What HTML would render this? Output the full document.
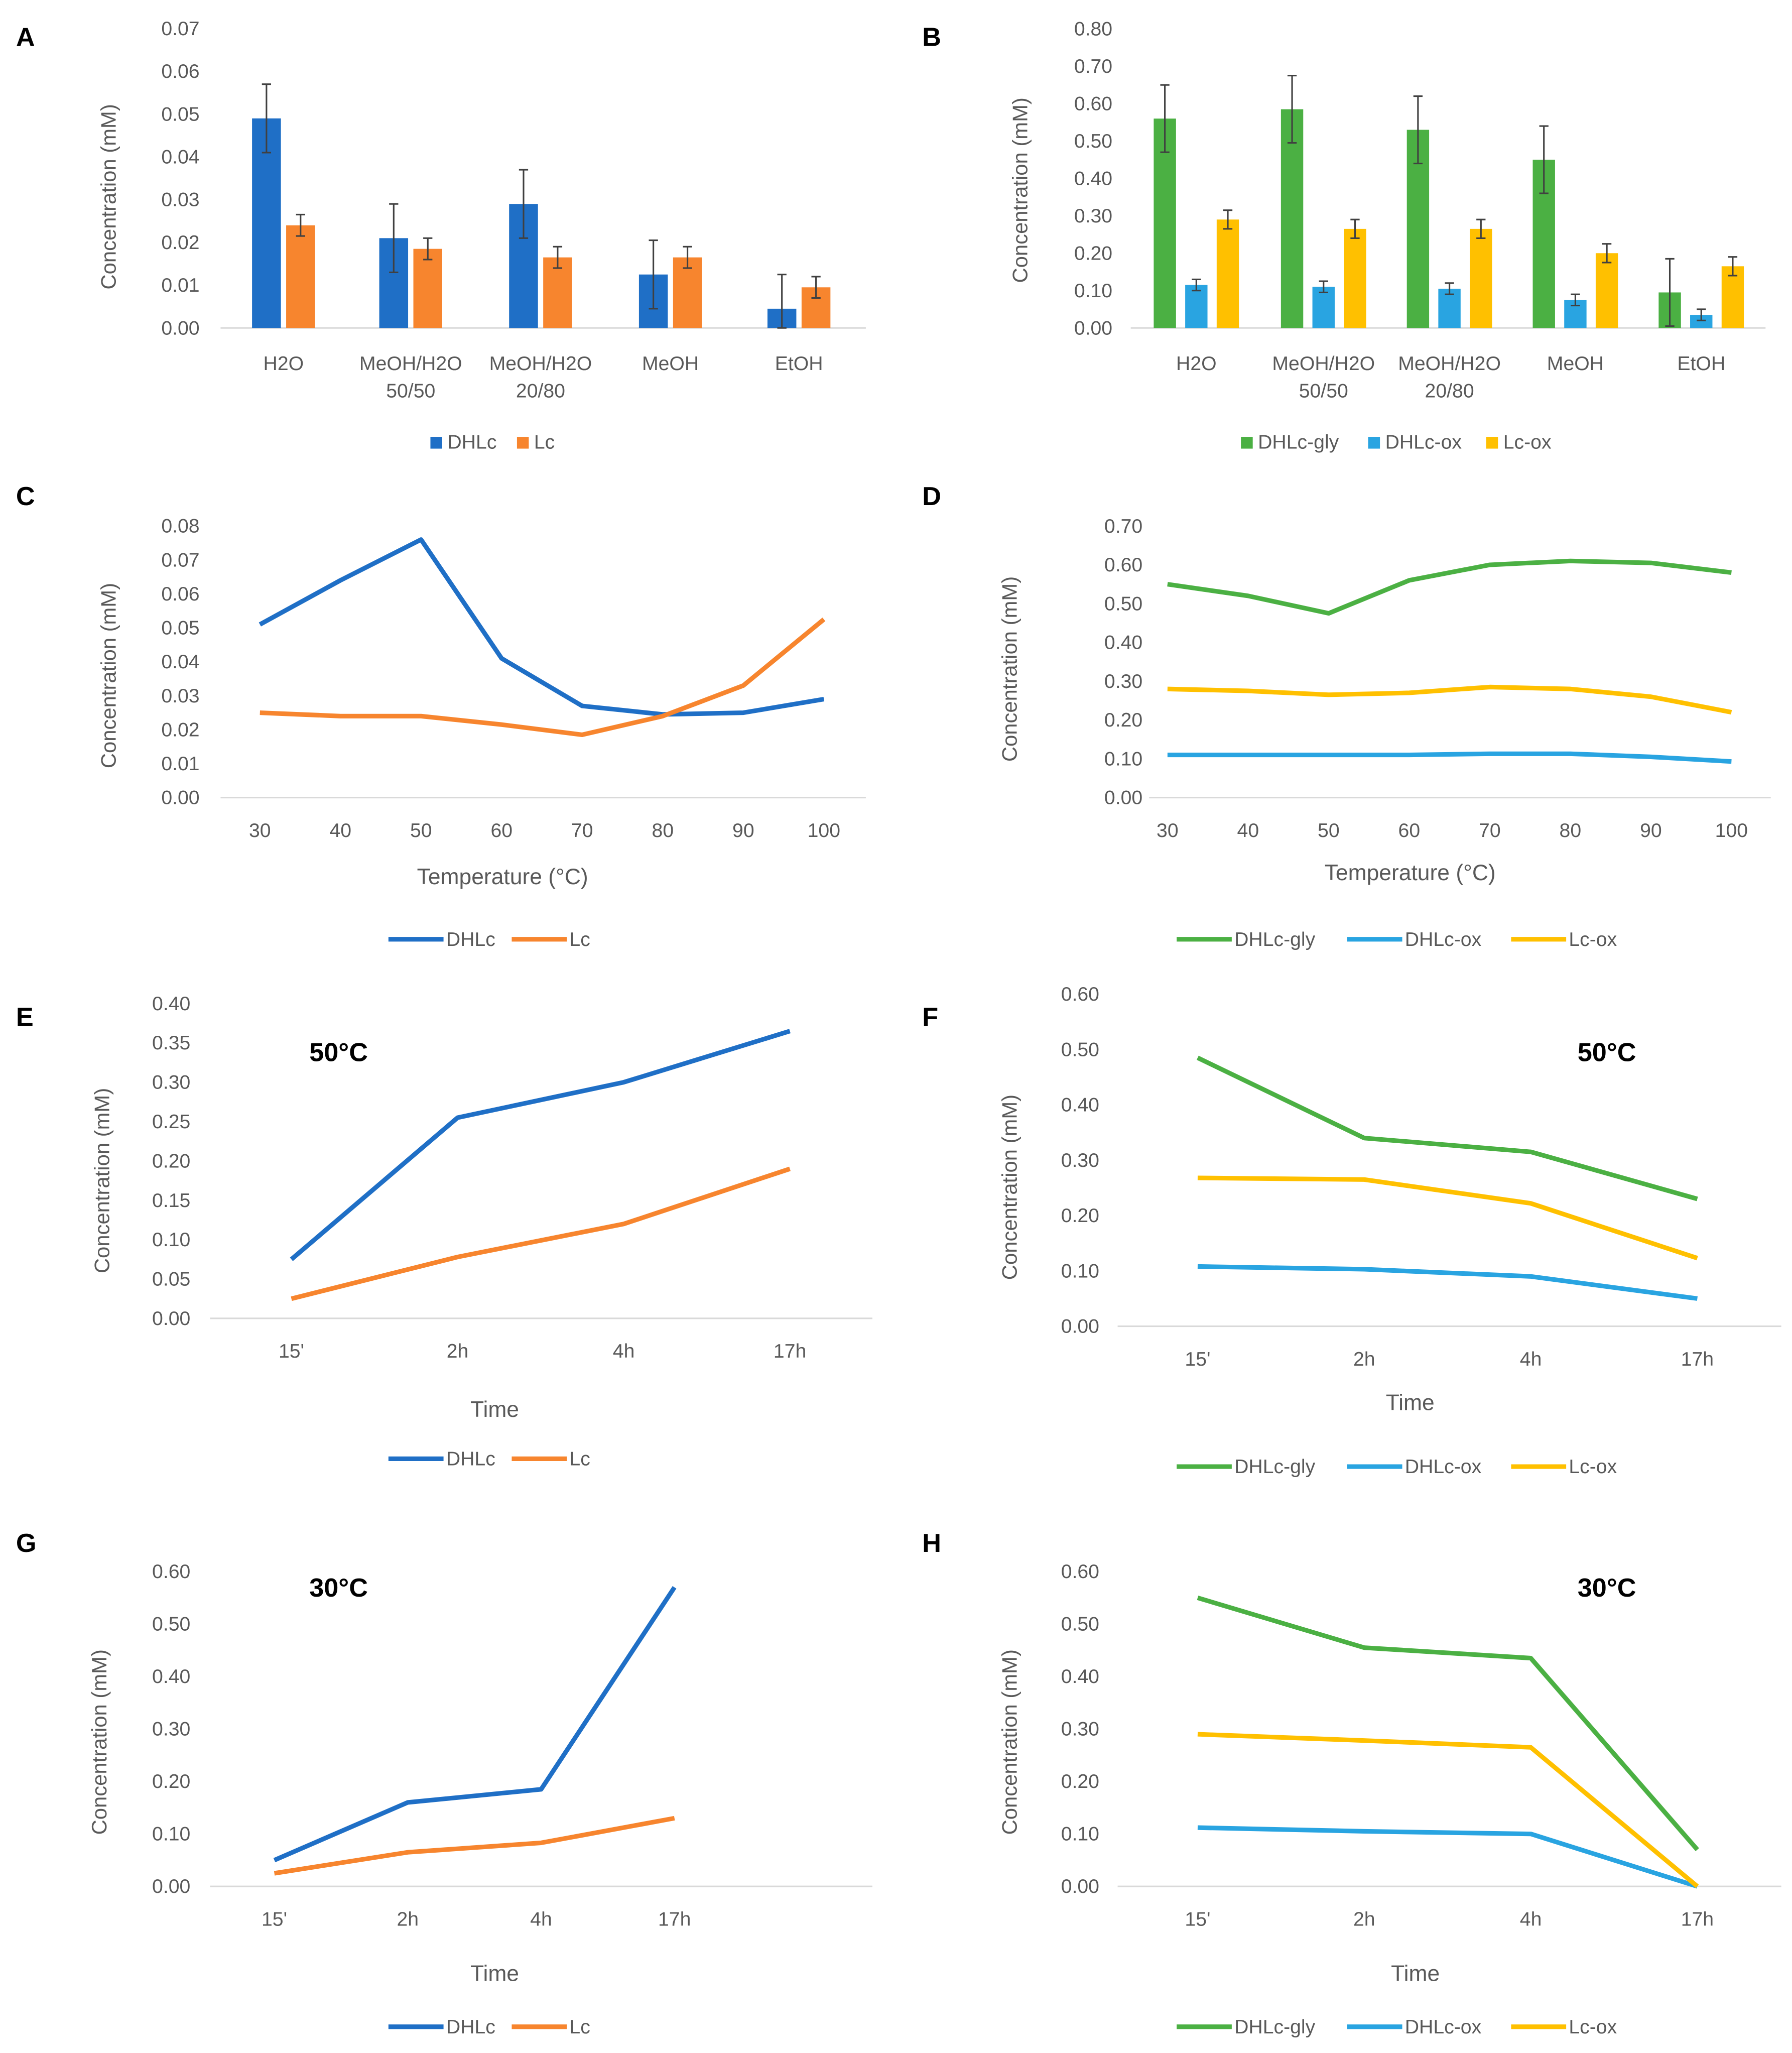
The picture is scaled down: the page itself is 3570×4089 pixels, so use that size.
<!DOCTYPE html>
<html><head><meta charset="utf-8">
<style>
html,body{margin:0;padding:0;background:#fff;}
svg{display:block;}
text{font-family:"Liberation Sans",sans-serif;fill:#595959;}
</style></head>
<body>
<svg id="fig" width="3570" height="4089" viewBox="0 0 1366 1565" xmlns="http://www.w3.org/2000/svg"></svg>
<script>
// ---------- data ----------
const barCats = ["H2O", "MeOH/H2O|50/50", "MeOH/H2O|20/80", "MeOH", "EtOH"];
const aDHLc = [0.049, 0.021, 0.029, 0.0125, 0.0045];
const aDHLcErr = [0.008, 0.008, 0.008, 0.008, 0.008];
const aLc = [0.024, 0.0185, 0.0165, 0.0165, 0.0095];
const aLcErr = [0.0025, 0.0025, 0.0025, 0.0025, 0.0025];
const bGly = [0.56, 0.585, 0.53, 0.45, 0.095];
const bGlyErr = [0.09, 0.09, 0.09, 0.09, 0.09];
const bOx = [0.115, 0.11, 0.105, 0.075, 0.035];
const bOxErr = [0.015, 0.015, 0.015, 0.015, 0.015];
const bLcOx = [0.29, 0.265, 0.265, 0.2, 0.165];
const bLcOxErr = [0.025, 0.025, 0.025, 0.025, 0.025];
const temps = [30, 40, 50, 60, 70, 80, 90, 100];
const cDHLc = [0.051, 0.064, 0.076, 0.041, 0.027, 0.0245, 0.025, 0.029];
const cLc = [0.025, 0.024, 0.024, 0.0215, 0.0185, 0.024, 0.033, 0.0525];
const dGly = [0.55, 0.52, 0.475, 0.56, 0.60, 0.61, 0.605, 0.58];
const dOx = [0.11, 0.11, 0.11, 0.11, 0.113, 0.113, 0.105, 0.093];
const dLcOx = [0.28, 0.275, 0.265, 0.27, 0.285, 0.28, 0.26, 0.22];
const times = ["15'", "2h", "4h", "17h"];
const eDHLc = [0.075, 0.255, 0.30, 0.365];
const eLc = [0.025, 0.078, 0.12, 0.19];
const fGly = [0.485, 0.34, 0.315, 0.23];
const fOx = [0.108, 0.103, 0.09, 0.05];
const fLcOx = [0.268, 0.265, 0.222, 0.123];
const gDHLc = [0.05, 0.16, 0.185, 0.57];
const gLc = [0.025, 0.065, 0.083, 0.13];
const hGly = [0.55, 0.455, 0.435, 0.07];
const hOx = [0.112, 0.105, 0.10, 0.0];
const hLcOx = [0.29, 0.278, 0.265, 0.0];

const BLUE="#1F6FC6", ORANGE="#F7852E", GREEN="#4BB043", LBLUE="#29A4E1", YELLOW="#FFC000";
const NS="http://www.w3.org/2000/svg";
const svg=document.getElementById('fig');
function mk(tag, attrs, parent){const e=document.createElementNS(NS,tag);for(const k in attrs)e.setAttribute(k,attrs[k]);(parent||svg).appendChild(e);return e;}
function txt(x,y,s,attrs,parent){const t=mk('text',Object.assign({x:x,y:y},attrs||{}),parent);t.textContent=s;return t;}

function axes(g,o){
  for(let i=0;i<=o.nTicks;i++){
    const v=i*o.step;
    const t=txt(o.labelX,o.y(v)+5,v.toFixed(o.dec),{'text-anchor':'end','font-size':15},g);
    
    
  }
  const base=mk('line',{x1:o.x0,x2:o.x1,y1:o.y(0),y2:o.y(0),stroke:'#d9d9d9','stroke-width':1.2},g);
  
  
  const yt=txt(0,0,'Concentration (mM)',{'text-anchor':'middle','font-size':16,transform:`translate(${o.ytX},${o.ytY}) rotate(-90)`},g);
  
  
}
function letter(x,y,s){const t=txt(x,y,s,{'font-size':20,'font-weight':'bold',fill:'#000',style:'fill:#000'});
  
  }

function barPanel(name,o){
  const g=mk('g',{});
  
  
  const y=v=>o.base-v*o.pxPer;
  axes(g,{nTicks:o.nTicks,step:o.step,dec:2,labelX:o.labelX,y:y,x0:o.x0,x1:o.x1,ytX:o.ytX,ytY:o.ytY});
  barCats.forEach((c,i)=>{
    const cx=o.cx[i];
    c.split('|').forEach((p,j)=>{
      const t=txt(cx,282+j*21,p,{'text-anchor':'middle','font-size':15},g);
      
      
    });
    o.series.forEach((s,k)=>{
      const bx=cx+s.off-o.bw/2, v=s.vals[i], e=s.err[i];
      const r=mk('rect',{x:bx,y:y(v),width:o.bw,height:y(0)-y(v),fill:s.color},g);
      
      
      const cxb=bx+o.bw/2;
      const el=mk('path',{d:`M${cxb},${y(v+e)}V${y(Math.max(0,v-e))}M${cxb-3.5},${y(v+e)}h7M${cxb-3.5},${y(Math.max(0,v-e))}h7`,stroke:'#404040','stroke-width':1.2,fill:'none'},g);
      
      
    });
  });
  o.series.forEach(s=>{
    const r=mk('rect',{x:s.lx,y:333,width:9,height:9,fill:s.color},g);
    
    
    const t=txt(s.lx+13,342,s.label,{'font-size':15},g);
    
    
  });
}

function linePanel(name,o){
  const g=mk('g',{});
  
  
  const y=v=>o.base-v*o.pxPer;
  const x=i=>o.xFirst+i*o.xStep;
  axes(g,{nTicks:o.nTicks,step:o.step,dec:2,labelX:o.labelX,y:y,x0:o.x0,x1:o.x1,ytX:o.ytX,ytY:o.ytY});
  o.cats.forEach((c,i)=>{
    const t=txt(x(i),o.base+30,String(c),{'text-anchor':'middle','font-size':15},g);
    
    
  });
  const xt=txt(o.xtX,o.xtY,o.xTitle,{'text-anchor':'middle','font-size':17},g);
  
  
  if(o.note){const n=txt(o.note[0],o.note[1],o.note[2],{'text-anchor':'middle','font-size':20,'font-weight':'bold',style:'fill:#000'},g);
    
    }
  o.series.forEach(s=>{
    const d=s.vals.map((v,i)=>(i?'L':'M')+x(i)+','+y(v)).join('');
    const p=mk('path',{d:d,stroke:s.color,'stroke-width':3.5,fill:'none','stroke-linejoin':'round'},g);
    
    
    const l=mk('line',{x1:s.lx,x2:s.lx+42,y1:o.legY,y2:o.legY,stroke:s.color,'stroke-width':3.5},g);
    
    
    const t=txt(s.lx+44,o.legY+5,s.label,{'font-size':15},g);
    
    
  });
}

letter(12,35,'A');letter(703,35,'B');letter(12,385,'C');letter(703,385,'D');
letter(12,782,'E');letter(703,782,'F');letter(12,1183,'G');letter(703,1183,'H');

barPanel('chart-a',{base:250,pxPer:3260,nTicks:7,step:0.01,labelX:152,x0:168,x1:660,ytX:88,ytY:150,
  cx:[216,313,412,511,609],bw:22,
  series:[{key:'dhlc',label:'DHLc',vals:aDHLc,err:aDHLcErr,color:BLUE,off:-13,lx:328},
          {key:'lc',label:'Lc',vals:aLc,err:aLcErr,color:ORANGE,off:13,lx:394}]});
barPanel('chart-b',{base:250,pxPer:285,nTicks:8,step:0.1,labelX:848,x0:862,x1:1346,ytX:783,ytY:145,
  cx:[912,1009,1105,1201,1297],bw:17,
  series:[{key:'dhlc-gly',label:'DHLc-gly',vals:bGly,err:bGlyErr,color:GREEN,off:-24,lx:946},
          {key:'dhlc-ox',label:'DHLc-ox',vals:bOx,err:bOxErr,color:LBLUE,off:0,lx:1043},
          {key:'lc-ox',label:'Lc-ox',vals:bLcOx,err:bLcOxErr,color:YELLOW,off:24,lx:1133}]});
linePanel('chart-c',{base:608,pxPer:2588,nTicks:8,step:0.01,labelX:152,x0:168,x1:660,ytX:88,ytY:515,
  cats:temps,xFirst:198,xStep:61.43,xTitle:'Temperature (°C)',xtX:383,xtY:674,legY:716,
  series:[{key:'dhlc',label:'DHLc',vals:cDHLc,color:BLUE,lx:296},{key:'lc',label:'Lc',vals:cLc,color:ORANGE,lx:390}]});
linePanel('chart-d',{base:608,pxPer:295.7,nTicks:7,step:0.1,labelX:871,x0:876,x1:1350,ytX:775,ytY:510,
  cats:temps,xFirst:890,xStep:61.43,xTitle:'Temperature (°C)',xtX:1075,xtY:671,legY:716,
  series:[{key:'dhlc-gly',label:'DHLc-gly',vals:dGly,color:GREEN,lx:897},{key:'dhlc-ox',label:'DHLc-ox',vals:dOx,color:LBLUE,lx:1027},{key:'lc-ox',label:'Lc-ox',vals:dLcOx,color:YELLOW,lx:1152}]});
linePanel('chart-e',{base:1005,pxPer:600,nTicks:8,step:0.05,labelX:145,x0:160,x1:665,ytX:83,ytY:900,
  cats:times,xFirst:222,xStep:126.7,xTitle:'Time',xtX:377,xtY:1080,legY:1112,note:[258,809,'50°C'],
  series:[{key:'dhlc',label:'DHLc',vals:eDHLc,color:BLUE,lx:296},{key:'lc',label:'Lc',vals:eLc,color:ORANGE,lx:390}]});
linePanel('chart-f',{base:1011,pxPer:422,nTicks:6,step:0.1,labelX:838,x0:852,x1:1358,ytX:775,ytY:905,
  cats:times,xFirst:913,xStep:127,xTitle:'Time',xtX:1075,xtY:1075,legY:1118,note:[1225,809,'50°C'],
  series:[{key:'dhlc-gly',label:'DHLc-gly',vals:fGly,color:GREEN,lx:897},{key:'dhlc-ox',label:'DHLc-ox',vals:fOx,color:LBLUE,lx:1027},{key:'lc-ox',label:'Lc-ox',vals:fLcOx,color:YELLOW,lx:1152}]});
linePanel('chart-g',{base:1438,pxPer:400,nTicks:6,step:0.1,labelX:145,x0:160,x1:665,ytX:81,ytY:1328,
  cats:times,xFirst:209,xStep:101.7,xTitle:'Time',xtX:377,xtY:1510,legY:1545,note:[258,1217,'30°C'],
  series:[{key:'dhlc',label:'DHLc',vals:gDHLc,color:BLUE,lx:296},{key:'lc',label:'Lc',vals:gLc,color:ORANGE,lx:390}]});
linePanel('chart-h',{base:1438,pxPer:400,nTicks:6,step:0.1,labelX:838,x0:852,x1:1358,ytX:775,ytY:1328,
  cats:times,xFirst:913,xStep:127,xTitle:'Time',xtX:1079,xtY:1510,legY:1545,note:[1225,1217,'30°C'],
  series:[{key:'dhlc-gly',label:'DHLc-gly',vals:hGly,color:GREEN,lx:897},{key:'dhlc-ox',label:'DHLc-ox',vals:hOx,color:LBLUE,lx:1027},{key:'lc-ox',label:'Lc-ox',vals:hLcOx,color:YELLOW,lx:1152}]});
</script>
</body></html>
